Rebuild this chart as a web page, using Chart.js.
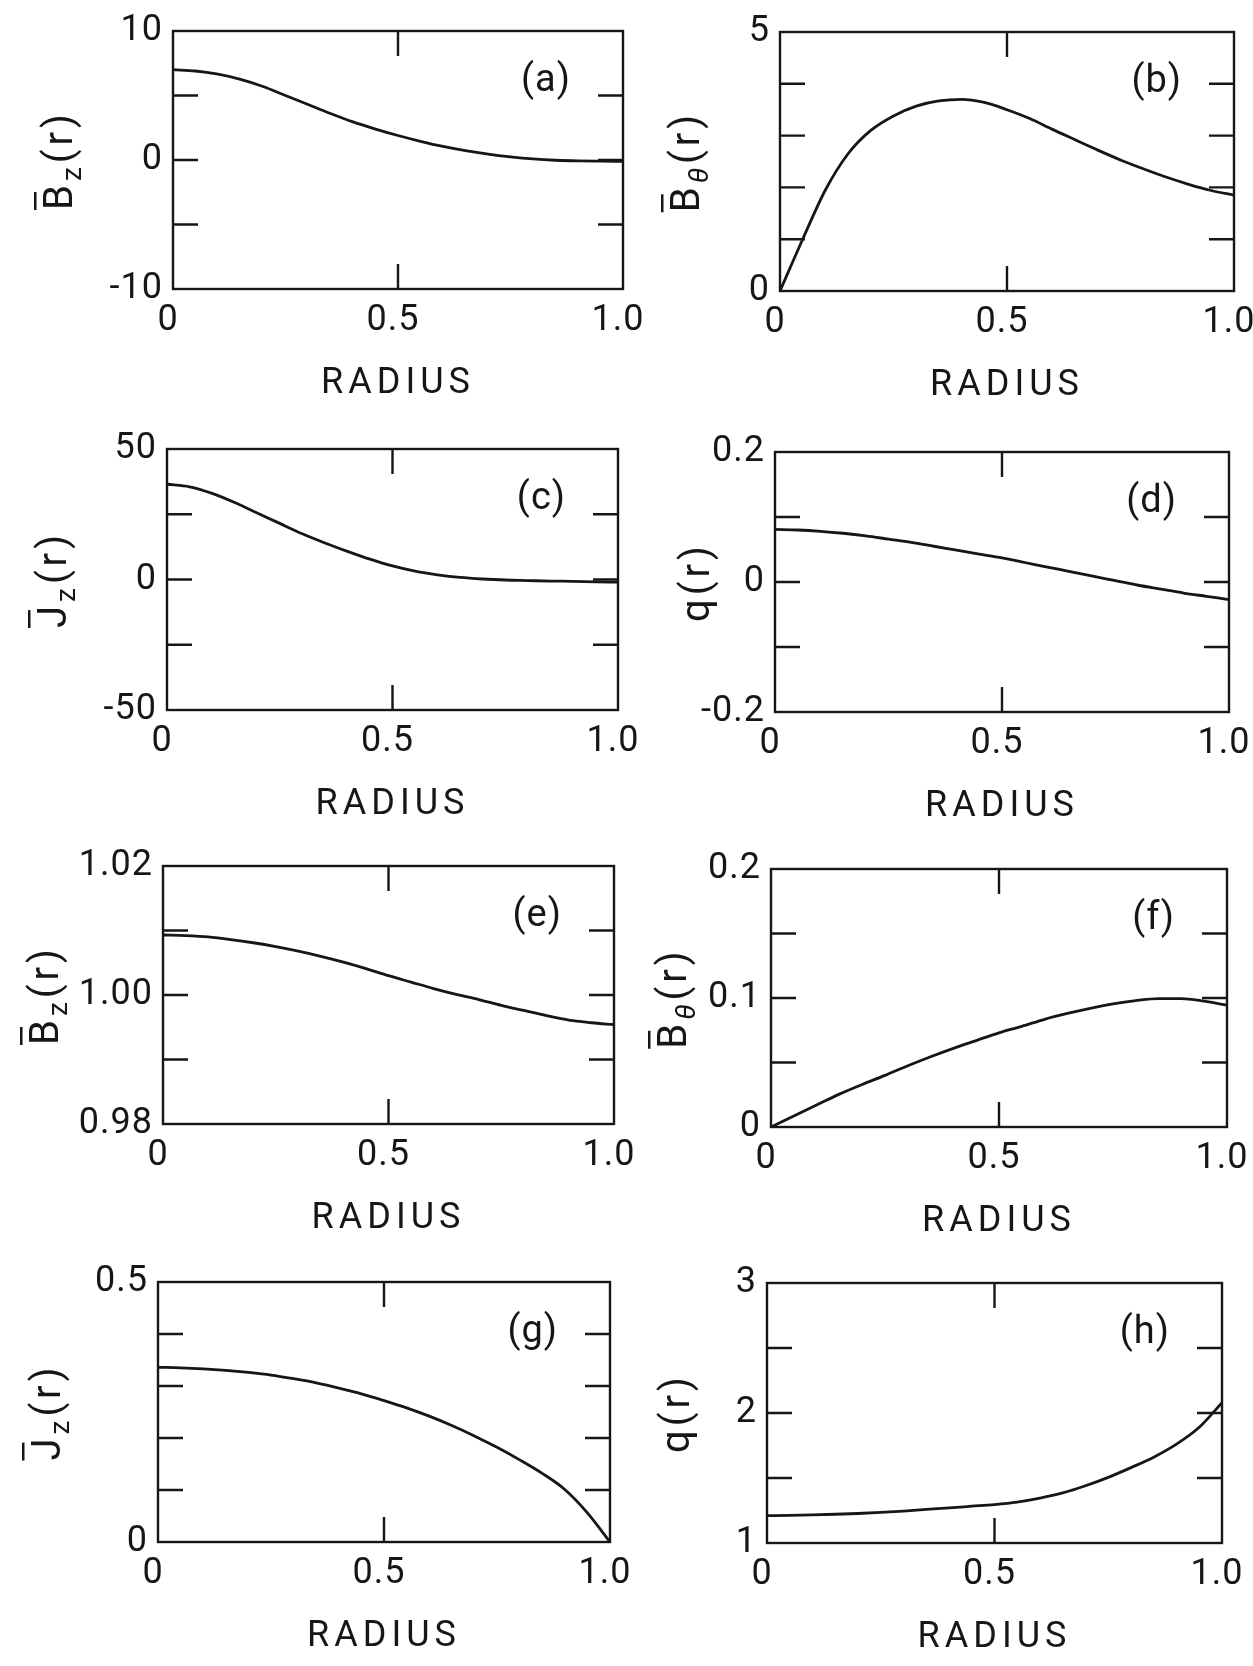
<!DOCTYPE html>
<html>
<head>
<meta charset="utf-8">
<title>Radial profiles</title>
<script src="https://cdn.jsdelivr.net/npm/chart.js@4.4.1/dist/chart.umd.min.js"></script>
<style>
  html, body { margin: 0; padding: 0; background: #fff; }
  body { width: 1253px; height: 1666px; position: relative; overflow: hidden; }
  canvas { position: absolute; }
</style>
</head>
<body>
<script>
// radius samples shared by every panel
const radius = [0, 0.05, 0.1, 0.15, 0.2, 0.25, 0.3, 0.35, 0.4, 0.45, 0.5, 0.55, 0.6, 0.65, 0.7, 0.75, 0.8, 0.85, 0.9, 0.95, 1.0];

// values
const bzA     = [7.0, 6.9, 6.65, 6.25, 5.7, 5.0, 4.3, 3.6, 2.95, 2.4, 1.9, 1.45, 1.05, 0.72, 0.45, 0.24, 0.08, -0.02, -0.07, -0.09, -0.1];
const bthetaB = [0, 1.0, 1.95, 2.65, 3.1, 3.38, 3.57, 3.67, 3.7, 3.64, 3.5, 3.33, 3.12, 2.92, 2.72, 2.53, 2.36, 2.2, 2.06, 1.94, 1.85];
const jzC     = [36.5, 35.5, 33, 29.5, 25.5, 21.5, 17.5, 14, 10.8, 7.8, 5.2, 3.2, 1.8, 0.8, 0.2, -0.2, -0.4, -0.6, -0.7, -0.9, -1.0];
const qD      = [0.081, 0.080, 0.078, 0.075, 0.071, 0.066, 0.061, 0.055, 0.049, 0.043, 0.037, 0.030, 0.023, 0.016, 0.009, 0.002, -0.005, -0.011, -0.017, -0.022, -0.027];
const bzE     = [1.0093, 1.0092, 1.0090, 1.0086, 1.0081, 1.0075, 1.0068, 1.0060, 1.0051, 1.0041, 1.0030, 1.0020, 1.0010, 1.0001, 0.9993, 0.9984, 0.9976, 0.9968, 0.9961, 0.9957, 0.9954];
const bthetaF = [0, 0.0085, 0.017, 0.0255, 0.033, 0.040, 0.0475, 0.0545, 0.061, 0.067, 0.073, 0.078, 0.0835, 0.088, 0.092, 0.0955, 0.098, 0.0995, 0.0995, 0.0975, 0.0945];
const jzG     = [0.336, 0.335, 0.333, 0.330, 0.326, 0.321, 0.314, 0.306, 0.296, 0.285, 0.272, 0.258, 0.242, 0.224, 0.204, 0.182, 0.158, 0.132, 0.101, 0.056, 0.0];
const qH      = [1.21, 1.212, 1.216, 1.221, 1.227, 1.235, 1.245, 1.258, 1.270, 1.283, 1.296, 1.315, 1.345, 1.385, 1.44, 1.505, 1.58, 1.66, 1.76, 1.89, 2.08];

// tick labels
const xTicks = [0, 0.5, 1.0];
const xTickText = ['0', '0.5', '1.0'];
const xMarks = [0.5];

const yTicksA = [-10, 0, 10];      const yTextA = ['-10', '0', '10'];    const yMarksA = [-5, 0, 5];
const yTicksB = [0, 5];            const yTextB = ['0', '5'];            const yMarksB = [1, 2, 3, 4];
const yTicksC = [-50, 0, 50];      const yTextC = ['-50', '0', '50'];    const yMarksC = [-25, 0, 25];
const yTicksD = [-0.2, 0, 0.2];    const yTextD = ['-0.2', '0', '0.2'];  const yMarksD = [-0.1, 0, 0.1];
const yTicksE = [0.98, 1.0, 1.02]; const yTextE = ['0.98', '1.00', '1.02']; const yMarksE = [0.99, 1.0, 1.01];
const yTicksF = [0, 0.1, 0.2];     const yTextF = ['0', '0.1', '0.2'];   const yMarksF = [0.05, 0.1, 0.15];
const yTicksG = [0, 0.5];          const yTextG = ['0', '0.5'];          const yMarksG = [0.1, 0.2, 0.3, 0.4];
const yTicksH = [1, 2, 3];         const yTextH = ['1', '2', '3'];       const yMarksH = [1.5, 2, 2.5];

// y axis titles: B-bar sub z, B-bar sub theta, J-bar sub z, q
const titleBz = [{ text: 'B', bar: true }, { text: 'z', sub: true }, { text: '(r)' }];
const titleBt = [{ text: 'B', bar: true }, { text: 'θ', sub: true, italic: true }, { text: '(r)' }];
const titleJz = [{ text: 'J', bar: true }, { text: 'z', sub: true }, { text: '(r)' }];
const titleQ  = [{ text: 'q(r)' }];

const INK = '#161616';
const FONT = "Roboto, 'Liberation Sans', sans-serif";
const AXIS_W = 150;   // room left of the plot box
const AXIS_H = 140;   // room below the plot box
const PAD_T = 40;
const PAD_R = 40;
const TICK = 25;

// plot box of each panel on the page: left, top, right, bottom
const panels = [
    { letter: '(a)', box: [173, 31, 623, 289],   values: bzA,     yTicks: yTicksA, yText: yTextA, yMarks: yMarksA, title: titleBz, titleGap: 115 },
    { letter: '(b)', box: [780, 32, 1234, 291],  values: bthetaB, yTicks: yTicksB, yText: yTextB, yMarks: yMarksB, title: titleBt, titleGap: 95 },
    { letter: '(c)', box: [167, 449, 618, 710],  values: jzC,     yTicks: yTicksC, yText: yTextC, yMarks: yMarksC, title: titleJz, titleGap: 115 },
    { letter: '(d)', box: [775, 452, 1229, 712], values: qD,      yTicks: yTicksD, yText: yTextD, yMarks: yMarksD, title: titleQ,  titleGap: 80 },
    { letter: '(e)', box: [163, 866, 614, 1124], values: bzE,     yTicks: yTicksE, yText: yTextE, yMarks: yMarksE, title: titleBz, titleGap: 119 },
    { letter: '(f)', box: [771, 869, 1227, 1127], values: bthetaF, yTicks: yTicksF, yText: yTextF, yMarks: yMarksF, title: titleBt, titleGap: 99 },
    { letter: '(g)', box: [158, 1282, 610, 1542], values: jzG,     yTicks: yTicksG, yText: yTextG, yMarks: yMarksG, title: titleJz, titleGap: 112 },
    { letter: '(h)', box: [767, 1283, 1222, 1543], values: qH,     yTicks: yTicksH, yText: yTextH, yMarks: yMarksH, title: titleQ,  titleGap: 92 }
];

function partFont(p) {
    const size = p.sub ? 28 : 40;
    return (p.italic ? 'italic ' : '') + size + 'px ' + FONT;
}

function drawYTitle(ctx, parts, cx, cy) {
    ctx.save();
    ctx.translate(cx, cy);
    ctx.rotate(-Math.PI / 2);
    ctx.letterSpacing = '4px';
    ctx.textAlign = 'left';
    ctx.textBaseline = 'alphabetic';
    ctx.fillStyle = INK;
    let total = 0;
    const widths = parts.map(p => {
        ctx.font = partFont(p);
        const w = ctx.measureText(p.text).width;
        total += w;
        return w;
    });
    let x0 = -total / 2;
    const base = 14;
    parts.forEach((p, i) => {
        ctx.font = partFont(p);
        ctx.fillText(p.text, x0, base + (p.sub ? 9 : 0));
        if (p.bar) {
            ctx.fillRect(x0, base - 38, 18, 2.5);
        }
        x0 += widths[i];
    });
    ctx.restore();
}

// box, inward tick marks, panel letter and y title
const framePlugin = {
    id: 'frame',
    beforeDraw(chart) {
        // wide spacing for the RADIUS title, drawn with the scale layer
        chart.ctx.letterSpacing = '5px';
    },
    beforeDatasetsDraw(chart) {
        // tick labels are drawn after the datasets (ticks.z = 1)
        chart.ctx.letterSpacing = '1px';
    },
    afterDraw(chart, args, opts) {
        const { ctx, chartArea: { left, top, right, bottom }, scales: { x, y } } = chart;
        ctx.save();
        ctx.strokeStyle = INK;
        ctx.lineWidth = 2.4;
        ctx.strokeRect(left, top, right - left, bottom - top);
        ctx.beginPath();
        opts.yMarks.forEach(v => {
            const py = y.getPixelForValue(v);
            ctx.moveTo(left, py);
            ctx.lineTo(left + TICK, py);
            ctx.moveTo(right, py);
            ctx.lineTo(right - TICK, py);
        });
        xMarks.forEach(v => {
            const px = x.getPixelForValue(v);
            ctx.moveTo(px, top);
            ctx.lineTo(px, top + TICK);
            ctx.moveTo(px, bottom);
            ctx.lineTo(px, bottom - TICK);
        });
        ctx.stroke();

        ctx.fillStyle = INK;
        ctx.letterSpacing = '1px';
        ctx.font = '38px ' + FONT;
        ctx.textAlign = 'right';
        ctx.textBaseline = 'middle';
        ctx.fillText(opts.letter, right - 52, top + 50);
        ctx.restore();

        drawYTitle(ctx, opts.title, left - opts.titleGap, (top + bottom) / 2);
    }
};

function makePanel(p) {
    const [l, t, r, b] = p.box;
    const w = r - l + AXIS_W + PAD_R;
    const h = b - t + PAD_T + AXIS_H;
    const canvas = document.createElement('canvas');
    canvas.width = w;
    canvas.height = h;
    canvas.style.left = (l - AXIS_W) + 'px';
    canvas.style.top = (t - PAD_T) + 'px';
    canvas.style.width = w + 'px';
    canvas.style.height = h + 'px';
    document.body.appendChild(canvas);

    const tickFont = { family: FONT, size: 36, lineHeight: 1 };

    new Chart(canvas, {
        type: 'line',
        data: {
            datasets: [{
                data: radius.map((rv, i) => ({ x: rv, y: p.values[i] })),
                borderColor: INK,
                borderWidth: 2.8,
                pointRadius: 0,
                fill: false,
                cubicInterpolationMode: 'monotone'
            }]
        },
        options: {
            responsive: false,
            animation: false,
            devicePixelRatio: 1,
            layout: { padding: { top: PAD_T, right: PAD_R, left: 0, bottom: 0 } },
            plugins: {
                legend: { display: false },
                tooltip: { enabled: false },
                frame: { letter: p.letter, yMarks: p.yMarks, title: p.title, titleGap: p.titleGap }
            },
            scales: {
                x: {
                    type: 'linear',
                    min: 0,
                    max: 1,
                    afterBuildTicks: s => { s.ticks = xTicks.map(v => ({ value: v })); },
                    afterFit: s => { s.height = AXIS_H; },
                    grid: { display: false, drawTicks: false },
                    border: { display: false },
                    ticks: {
                        z: 1, color: INK, font: tickFont, padding: 14, labelOffset: -5,
                        maxRotation: 0, autoSkip: false,
                        callback: (v, i) => xTickText[i]
                    },
                    title: {
                        display: true,
                        text: 'RADIUS',
                        color: INK,
                        font: { family: FONT, size: 36, lineHeight: 1 },
                        padding: { top: 0, bottom: 27 }
                    }
                },
                y: {
                    type: 'linear',
                    min: p.yTicks[0],
                    max: p.yTicks[p.yTicks.length - 1],
                    afterBuildTicks: s => { s.ticks = p.yTicks.map(v => ({ value: v })); },
                    afterFit: s => { s.width = AXIS_W; },
                    grid: { display: false, drawTicks: false },
                    border: { display: false },
                    ticks: {
                        z: 1, color: INK, font: tickFont, padding: 10,
                        autoSkip: false,
                        callback: (v, i) => p.yText[i]
                    }
                }
            }
        },
        plugins: [framePlugin]
    });
}

panels.forEach(makePanel);
</script>
</body>
</html>
